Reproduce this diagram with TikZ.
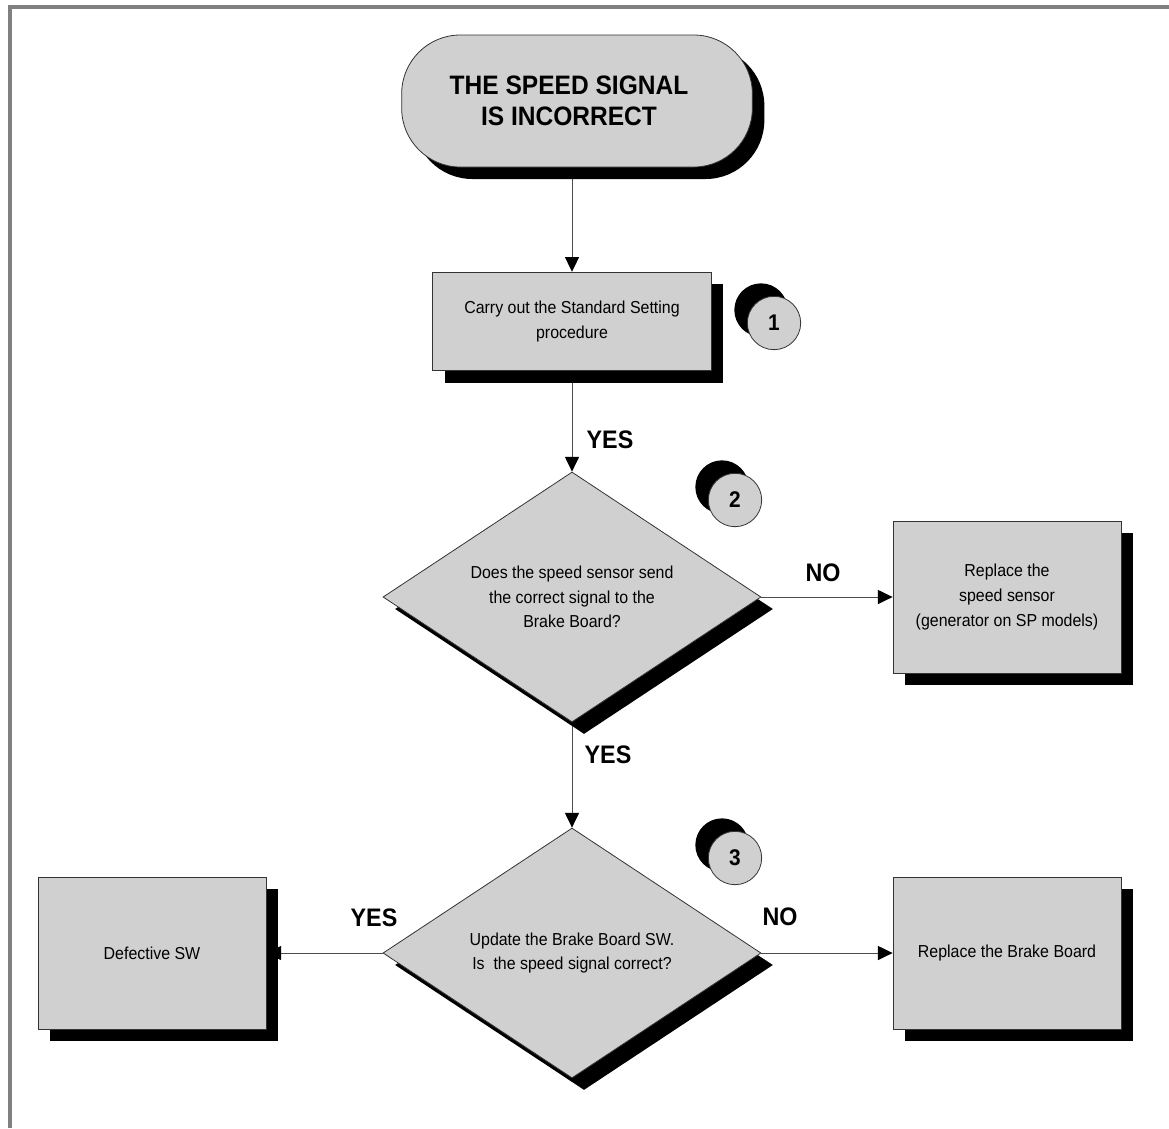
\documentclass[tikz,border=0pt]{standalone}
\usepackage{fontspec}
\setmainfont{Liberation Sans}[FakeStretch=0.92]
\usetikzlibrary{arrows.meta,positioning,shapes.geometric,shadows,backgrounds}
\definecolor{boxgray}{RGB}{208,208,208}
\definecolor{framegray}{RGB}{128,128,128}

\begin{document}
\begin{tikzpicture}[
    x=0.75pt, y=-0.75pt,
    font=\fontsize{13}{18.5}\selectfont,
    >={Triangle[length=11pt, width=10.5pt, color=black]},
    blackshadow/.style={drop shadow={shadow xshift=9pt, shadow yshift=-9pt, fill=black, opacity=1}},
    terminal/.style={
        draw=black!80,
        line width=0.6pt,
        fill=boxgray,
        rounded corners=44pt,
        minimum width=263pt,
        minimum height=99pt,
        align=center,
        font=\bfseries\fontsize{20}{23}\selectfont,
        blackshadow
    },
    stepbox/.style={
        draw=black!80,
        line width=0.6pt,
        fill=boxgray,
        inner sep=0pt,
        minimum width=171pt,
        minimum height=114pt,
        align=center,
        blackshadow
    },
    decision/.style={
        diamond,
        draw=black!80,
        line width=0.6pt,
        fill=boxgray,
        inner sep=0pt,
        aspect=1.5,
        minimum width=283.5pt,
        minimum height=187.5pt,
        align=center,
        blackshadow
    },
    numcircle/.style={
        circle,
        draw=black!80,
        line width=0.6pt,
        fill=boxgray,
        inner sep=0pt,
        minimum size=40pt,
        font=\bfseries\fontsize{17}{17}\selectfont,
        drop shadow={shadow xshift=-9.75pt, shadow yshift=9.75pt, fill=black, opacity=1}
    },
    answer/.style={font=\bfseries\fontsize{19}{19}\selectfont},
    flow/.style={->, black!70, line width=0.75pt}
]

\useasboundingbox (0,0) rectangle (1169,1128);

% Frame
\draw[framegray, line width=3pt] (10,1128) -- (10,7) -- (1169,7);

% Start
\node[terminal] (start) at (577,101) {\hspace*{-12pt}THE SPEED SIGNAL\\\hspace*{-12pt}IS INCORRECT};

% Steps
\node[stepbox, minimum width=209pt, minimum height=74pt] (setting) at (572,321.5)
    {Carry out the Standard Setting\\procedure};
\node[decision] (sensor) at (572,597)
    {Does the speed sensor send\\the correct signal to the\\Brake Board?};
\node[stepbox] (replsensor) at (1007,597)
    {Replace the\\speed sensor\\(generator on SP models)};
\node[decision] (update) at (572,953)
    {Update the Brake Board SW.\\Is\ \ the speed signal correct?};
\node[stepbox] (replboard) at (1007,953) {Replace the Brake Board};
\node[stepbox] (defective) at (152,953) {Defective SW};

% Step numbers
\foreach \n/\x/\y in {1/774/323, 2/735/500, 3/735/858}
    \node[numcircle] (num\n) at (\x,\y) {\n};

% Answers
\node[answer] (yesa) at (610,440) {YES};
\node[answer] (yesb) at (608,755) {YES};
\node[answer] (noa) at (823,573) {NO};
\node[answer] (nob) at (780,917) {NO};
\node[answer] (yesc) at (374,918) {YES};

% Connectors
\begin{scope}[on background layer]
    \draw[flow] (start.south -| setting.north) -- (setting.north);
    \draw[flow] (setting.south) -- (sensor.north);
    \draw[flow] (sensor.east) -- (replsensor.west);
    \draw[flow] (sensor.south) -- (update.north);
    \draw[flow] (update.east) -- (replboard.west);
    \draw[flow] (update.west) -- (defective.east);
\end{scope}

\end{tikzpicture}
\end{document}
